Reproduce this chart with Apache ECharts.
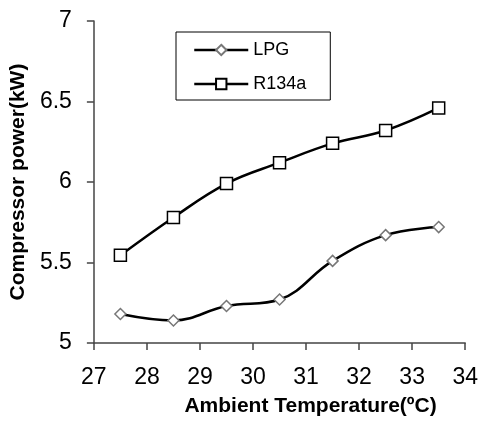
<!DOCTYPE html>
<html>
<head>
<meta charset="utf-8">
<script src="https://cdn.jsdelivr.net/npm/echarts@6/dist/echarts.min.js"></script>
<style>html,body{margin:0;padding:0;background:#fff;}#c{width:481px;height:422px;}</style>
</head>
<body>
<div id="c"></div>
<script>
const temps = [27.5, 28.5, 29.5, 30.5, 31.5, 32.5, 33.5];
const lpg = [5.18, 5.14, 5.23, 5.27, 5.51, 5.67, 5.72];
const r134a = [5.545, 5.78, 5.99, 6.12, 6.24, 6.32, 6.46];
const seriesNames = ['LPG', 'R134a'];
const xTitle = 'Ambient Temperature(ºC)';
const yTitle = 'Compressor power(kW)';

const pairs = (xs, ys) => xs.map((x, i) => [x, ys[i]]);
const font = 'Arial, "Liberation Sans", sans-serif';

const chart = echarts.init(document.getElementById('c'), null, {renderer: 'canvas'});
chart.setOption({
  animation: false,
  backgroundColor: '#fff',
  grid: {left: 93, right: 14, top: 21, bottom: 78, containLabel: false},
  legend: {
    orient: 'vertical',
    left: 176, top: 32,
    padding: [9, 24, 7, 17],
    borderColor: '#000', borderWidth: 1,
    itemWidth: 54, itemHeight: 13, itemGap: 16,
    lineStyle: {width: 2.5, color: '#000'},
    textStyle: {fontFamily: font, fontSize: 18, color: '#000'},
    data: seriesNames
  },
  xAxis: {
    type: 'value', min: 27, max: 34, interval: 1,
    name: xTitle, nameLocation: 'middle', nameGap: 53,
    nameTextStyle: {fontFamily: font, fontSize: 21, fontWeight: 'bold', color: '#000', padding: [0, 0, 0, 62]},
    axisLine: {lineStyle: {color: '#444', width: 1.5}},
    axisTick: {length: 7, lineStyle: {color: '#444', width: 1.5}},
    axisLabel: {fontFamily: font, fontSize: 23, color: '#000', margin: 23},
    splitLine: {show: false}
  },
  yAxis: {
    type: 'value', min: 5, max: 7, interval: 0.5,
    name: yTitle, nameLocation: 'middle', nameGap: 57, nameRotate: 90,
    nameTextStyle: {fontFamily: font, fontSize: 21, fontWeight: 'bold', color: '#000'},
    axisLine: {show: true, lineStyle: {color: '#444', width: 1.5}},
    axisTick: {show: true, length: 7, lineStyle: {color: '#444', width: 1.5}},
    axisLabel: {fontFamily: font, fontSize: 23, color: '#000', margin: 22},
    splitLine: {show: false}
  },
  series: [
    {
      name: seriesNames[0], type: 'line', smooth: 0.4,
      data: pairs(temps, lpg),
      symbol: 'diamond', symbolSize: [11, 11],
      lineStyle: {color: '#000', width: 2.5},
      itemStyle: {color: '#fff', borderColor: '#777', borderWidth: 1.5},
      z: 2
    },
    {
      name: seriesNames[1], type: 'line', smooth: 0.4,
      data: pairs(temps, r134a),
      symbol: 'rect', symbolSize: 12,
      lineStyle: {color: '#000', width: 2.5},
      itemStyle: {color: '#fff', borderColor: '#000', borderWidth: 1.5},
      z: 2
    }
  ]
});
</script>
</body>
</html>
